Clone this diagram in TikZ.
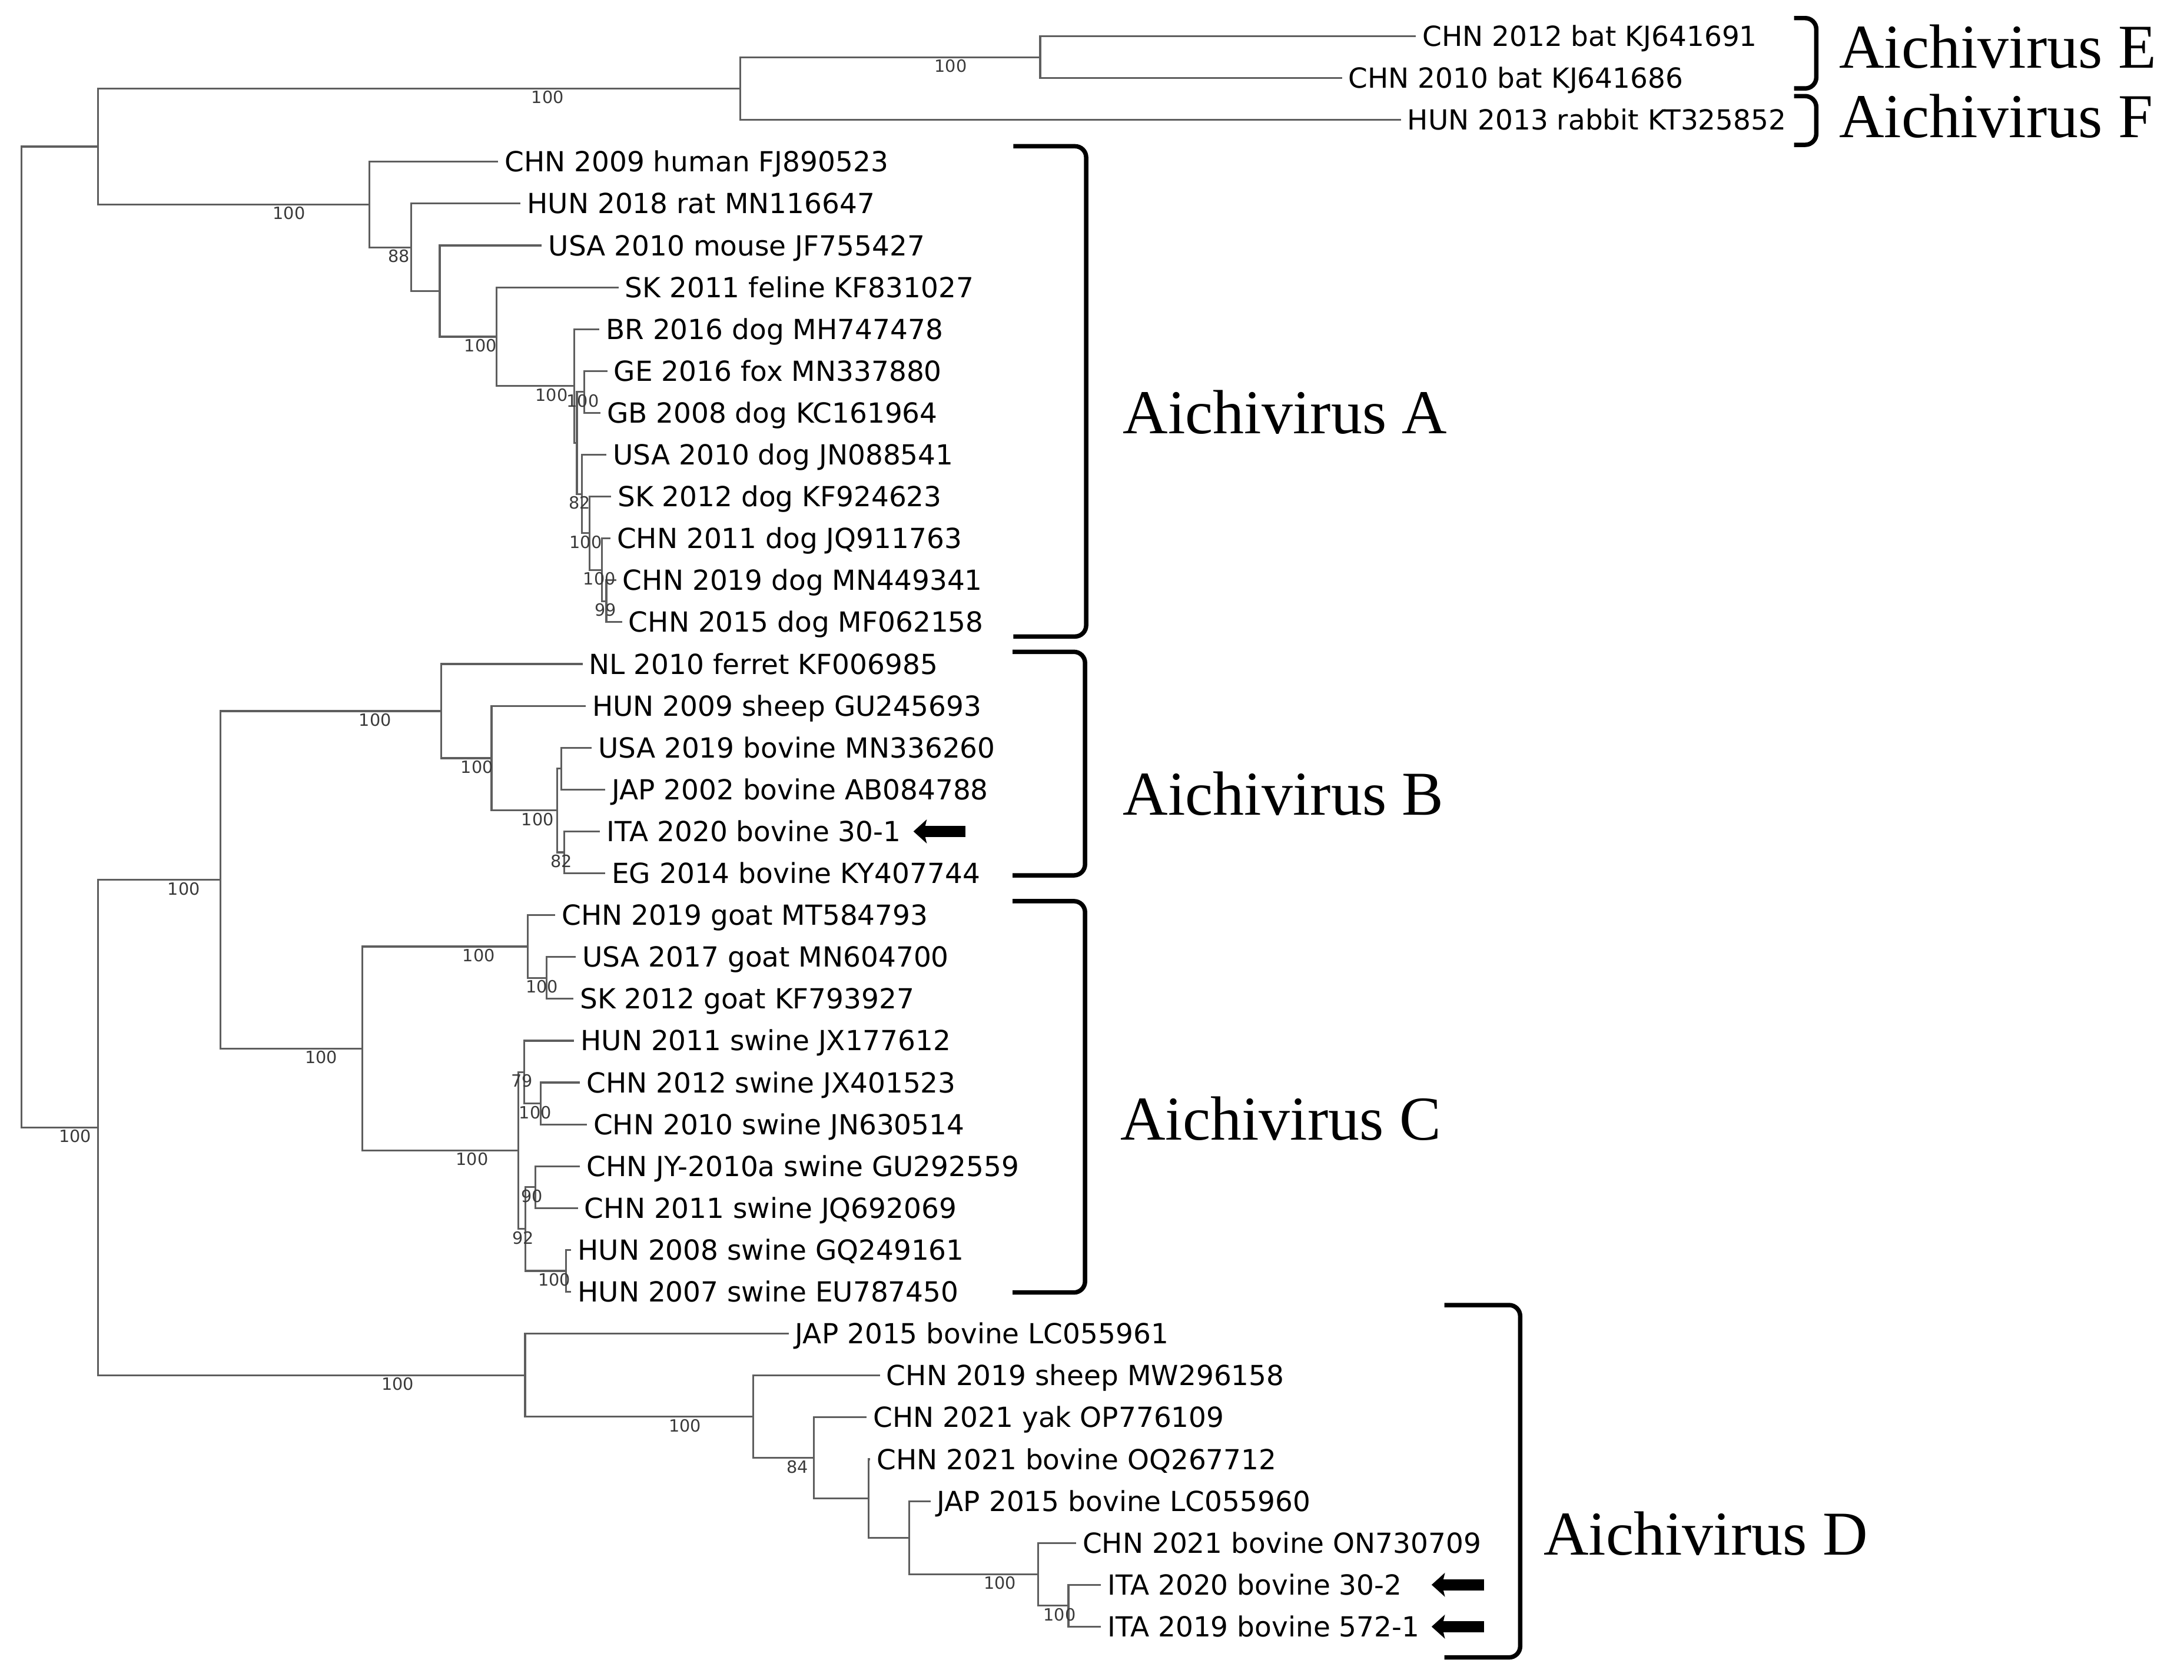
\documentclass[tikz,border=0pt]{standalone}
\usepackage{fontspec}
\setmainfont{DejaVu Sans}
\newfontfamily\cladefont{Liberation Serif}
\usetikzlibrary{arrows.meta}
\definecolor{tgray}{HTML}{5E5E5E}
\definecolor{sgray}{HTML}{3A3A3A}
\tikzstyle{branch} = [draw=tgray, line width=0.75pt]
\tikzstyle{leaf} = [anchor=west, inner xsep=2.5pt, inner ysep=0pt, text height=11.2pt, text depth=3pt, font=\fontsize{11.3}{13}\selectfont]
\tikzstyle{support} = [inner sep=0pt, text=sgray, font=\fontsize{6.9}{8}\selectfont]
\tikzstyle{clade} = [anchor=west, inner sep=0pt, font=\cladefont\fontsize{25.5}{28}\selectfont]
\tikzstyle{bracket} = [draw=black, line width=1.8pt, rounded corners=0.16cm]
\tikzstyle{pointer} = [line width=4.6pt, -{Stealth[length=0.19cm, width=0.34cm, inset=0.04cm]}]

\begin{document}
\begin{tikzpicture}[x=0.02cm, y=-0.02cm]
\useasboundingbox (0,0) rectangle (1568,1206);
%Leaves
\node (bat12) [leaf] at (1016.5,26) {CHN 2012 bat KJ641691};
\node (bat10) [leaf] at (963.4,56.05) {CHN 2010 bat KJ641686};
\node (rab13) [leaf] at (1005.7,86.1) {HUN 2013 rabbit KT325852};
\node (hum09) [leaf] at (357.6,116.15) {CHN 2009 human FJ890523};
\node (rat18) [leaf] at (373.7,146.2) {HUN 2018 rat MN116647};
\node (mou10) [leaf] at (389,176.25) {USA 2010 mouse JF755427};
\node (fel11) [leaf] at (444,206.3) {SK 2011 feline KF831027};
\node (dogBR) [leaf] at (430.3,236.35) {BR 2016 dog MH747478};
\node (foxGE) [leaf] at (436,266.4) {GE 2016 fox MN337880};
\node (dogGB) [leaf] at (431,296.45) {GB 2008 dog KC161964};
\node (dogUS) [leaf] at (435.4,326.5) {USA 2010 dog JN088541};
\node (dogSK) [leaf] at (438.7,356.55) {SK 2012 dog KF924623};
\node (dogCN11) [leaf] at (438.2,386.6) {CHN 2011 dog JQ911763};
\node (dogCN19) [leaf] at (442.4,416.65) {CHN 2019 dog MN449341};
\node (dogCN15) [leaf] at (446.6,446.7) {CHN 2015 dog MF062158};
\node (fer10) [leaf] at (418.2,476.75) {NL 2010 ferret KF006985};
\node (shp09) [leaf] at (420.5,506.8) {HUN 2009 sheep GU245693};
\node (bovUS) [leaf] at (424.7,536.85) {USA 2019 bovine MN336260};
\node (bovJP02) [leaf] at (434.5,566.9) {JAP 2002 bovine AB084788};
\node (bovIT1) [leaf] at (430.8,596.95) {ITA 2020 bovine 30-1};
\node (bovEG) [leaf] at (434.5,627) {EG 2014 bovine KY407744};
\node (goatCN) [leaf] at (398.7,657.05) {CHN 2019 goat MT584793};
\node (goatUS) [leaf] at (413.5,687.1) {USA 2017 goat MN604700};
\node (goatSK) [leaf] at (411.7,717.15) {SK 2012 goat KF793927};
\node (swHU11) [leaf] at (412.1,747.2) {HUN 2011 swine JX177612};
\node (swCN12) [leaf] at (416.3,777.25) {CHN 2012 swine JX401523};
\node (swCN10) [leaf] at (421.3,807.3) {CHN 2010 swine JN630514};
\node (swJY) [leaf] at (416.3,837.35) {CHN JY-2010a swine GU292559};
\node (swCN11) [leaf] at (414.9,867.4) {CHN 2011 swine JQ692069};
\node (swHU08) [leaf] at (410,897.45) {HUN 2008 swine GQ249161};
\node (swHU07) [leaf] at (410,927.5) {HUN 2007 swine EU787450};
\node (bovJP61) [leaf] at (566.2,957.55) {JAP 2015 bovine LC055961};
\node (shpCN) [leaf] at (631.7,987.6) {CHN 2019 sheep MW296158};
\node (yak) [leaf] at (622.3,1017.65) {CHN 2021 yak OP776109};
\node (bovOQ) [leaf] at (624.8,1047.7) {CHN 2021 bovine OQ267712};
\node (bovJP60) [leaf] at (668,1077.75) {JAP 2015 bovine LC055960};
\node (bovON) [leaf] at (772.5,1107.8) {CHN 2021 bovine ON730709};
\node (bovIT2) [leaf] at (790.4,1137.85) {ITA 2020 bovine 30-2};
\node (bovIT3) [leaf] at (790.4,1167.9) {ITA 2019 bovine 572-1};
%Inner nodes
\coordinate (root) at (15.4,457.38);
\coordinate (nAEF) at (70.2,105.22);
\coordinate (nEF) at (531.5,63.56);
\coordinate (nE) at (746.8,41.03);
\coordinate (nA1) at (265.2,146.87);
\coordinate (nA2) at (295.2,177.6);
\coordinate (nA3) at (315.7,209.0);
\coordinate (nA4) at (356.6,241.75);
\coordinate (nA5) at (412.4,277.2);
\coordinate (nA6) at (414.2,318.05);
\coordinate (nA7) at (419.5,281.43);
\coordinate (nA8) at (417.7,354.67);
\coordinate (nA9) at (423.4,382.84);
\coordinate (nA10) at (432.2,409.14);
\coordinate (nA11) at (435.3,431.68);
\coordinate (nBCD) at (70.3,809.53);
\coordinate (nBC) at (158.3,631.69);
\coordinate (nB1) at (316.7,510.56);
\coordinate (nB2) at (352.9,544.36);
\coordinate (nB3) at (400,581.93);
\coordinate (nB4) at (402.9,551.88);
\coordinate (nB5) at (405,611.98);
\coordinate (nC) at (260.2,752.84);
\coordinate (nC1) at (379,679.59);
\coordinate (nC2) at (392.4,702.13);
\coordinate (nC3) at (372.2,826.08);
\coordinate (nC4) at (376.2,769.74);
\coordinate (nC5) at (388.1,792.28);
\coordinate (nC6) at (377.3,882.43);
\coordinate (nC7) at (384.3,852.38);
\coordinate (nC8) at (406.4,912.48);
\coordinate (nD1) at (377,987.37);
\coordinate (nD2) at (540.8,1017.18);
\coordinate (nD3) at (584.4,1046.76);
\coordinate (nD4) at (623.7,1075.87);
\coordinate (nD5) at (652.8,1104.04);
\coordinate (nD6) at (745.3,1130.34);
\coordinate (nD7) at (767.1,1152.88);
%Branches
\draw [branch] (root) |- (nAEF) (root) |- (nBCD);
\draw [branch] (nAEF) |- (nEF) (nAEF) |- (nA1);
\draw [branch] (nEF) |- (nE) (nEF) |- (rab13.west);
\draw [branch] (nE) |- (bat12.west) (nE) |- (bat10.west);
\draw [branch] (nA1) |- (hum09.west) (nA1) |- (nA2);
\draw [branch] (nA2) |- (rat18.west) (nA2) |- (nA3);
\draw [branch] (nA3) |- (mou10.west) (nA3) |- (nA4);
\draw [branch] (nA4) |- (fel11.west) (nA4) |- (nA5);
\draw [branch] (nA5) |- (dogBR.west) (nA5) |- (nA6);
\draw [branch] (nA6) |- (nA7) (nA6) |- (nA8);
\draw [branch] (nA7) |- (foxGE.west) (nA7) |- (dogGB.west);
\draw [branch] (nA8) |- (dogUS.west) (nA8) |- (nA9);
\draw [branch] (nA9) |- (dogSK.west) (nA9) |- (nA10);
\draw [branch] (nA10) |- (dogCN11.west) (nA10) |- (nA11);
\draw [branch] (nA11) |- (dogCN19.west) (nA11) |- (dogCN15.west);
\draw [branch] (nBCD) |- (nBC) (nBCD) |- (nD1);
\draw [branch] (nBC) |- (nB1) (nBC) |- (nC);
\draw [branch] (nB1) |- (fer10.west) (nB1) |- (nB2);
\draw [branch] (nB2) |- (shp09.west) (nB2) |- (nB3);
\draw [branch] (nB3) |- (nB4) (nB3) |- (nB5);
\draw [branch] (nB4) |- (bovUS.west) (nB4) |- (bovJP02.west);
\draw [branch] (nB5) |- (bovIT1.west) (nB5) |- (bovEG.west);
\draw [branch] (nC) |- (nC1) (nC) |- (nC3);
\draw [branch] (nC1) |- (goatCN.west) (nC1) |- (nC2);
\draw [branch] (nC2) |- (goatUS.west) (nC2) |- (goatSK.west);
\draw [branch] (nC3) |- (nC4) (nC3) |- (nC6);
\draw [branch] (nC4) |- (swHU11.west) (nC4) |- (nC5);
\draw [branch] (nC5) |- (swCN12.west) (nC5) |- (swCN10.west);
\draw [branch] (nC6) |- (nC7) (nC6) |- (nC8);
\draw [branch] (nC7) |- (swJY.west) (nC7) |- (swCN11.west);
\draw [branch] (nC8) |- (swHU08.west) (nC8) |- (swHU07.west);
\draw [branch] (nD1) |- (bovJP61.west) (nD1) |- (nD2);
\draw [branch] (nD2) |- (shpCN.west) (nD2) |- (nD3);
\draw [branch] (nD3) |- (yak.west) (nD3) |- (nD4);
\draw [branch] (nD4) |- (bovOQ.west) (nD4) |- (nD5);
\draw [branch] (nD5) |- (bovJP60.west) (nD5) |- (nD6);
\draw [branch] (nD6) |- (bovON.west) (nD6) |- (nD7);
\draw [branch] (nD7) |- (bovIT2.west) (nD7) |- (bovIT3.west);
%Bootstrap values
\node (s1) [support] at (393.2,69.9) {100};
\node (s2) [support] at (682.6,47.3) {100};
\node (s3) [support] at (207.5,153.2) {100};
\node (s4) [support] at (54,815.8) {100};
\node (s5) [support] at (286.5,183.9) {88};
\node (s6) [support] at (345,248.1) {100};
\node (s7) [support] at (396,283.5) {100};
\node (s8) [support] at (418.4,287.7) {100};
\node (s9) [support] at (416,361) {82};
\node (s10) [support] at (420.5,389.1) {100};
\node (s11) [support] at (430.4,415.4) {100};
\node (s12) [support] at (434.6,438) {99};
\node (s13) [support] at (132,638) {100};
\node (s14) [support] at (269.3,516.9) {100};
\node (s15) [support] at (342.4,550.7) {100};
\node (s16) [support] at (386,588.2) {100};
\node (s17) [support] at (403,618.3) {82};
\node (s18) [support] at (230.5,759.1) {100};
\node (s19) [support] at (343.7,685.9) {100};
\node (s20) [support] at (389.2,708.4) {100};
\node (s21) [support] at (339,832.4) {100};
\node (s22) [support] at (374.8,776) {79};
\node (s23) [support] at (384.3,798.6) {100};
\node (s24) [support] at (381.8,858.7) {90};
\node (s25) [support] at (375.5,888.7) {92};
\node (s26) [support] at (398,918.8) {100};
\node (s27) [support] at (285.5,993.7) {100};
\node (s28) [support] at (491.7,1023.5) {100};
\node (s29) [support] at (572.4,1053.1) {84};
\node (s30) [support] at (718,1136.6) {100};
\node (s31) [support] at (760.8,1159.2) {100};
%Clades
\draw [bracket] (1288,13) -- (1304,13) -- (1304,63.5) -- (1288,63.5);
\draw [bracket] (1288,69) -- (1304,69) -- (1304,104) -- (1288,104);
\draw [bracket] (727.5,105) -- (779.8,105) -- (779.8,457) -- (727.5,457);
\draw [bracket] (727,468) -- (779,468) -- (779,628.5) -- (727,628.5);
\draw [bracket] (727,647) -- (779,647) -- (779,928) -- (727,928);
\draw [bracket] (1037,937) -- (1091.4,937) -- (1091.4,1190) -- (1037,1190);
\node (labE) [clade] at (1320,33.5) {Aichivirus E};
\node (labF) [clade] at (1320,83.5) {Aichivirus F};
\node (labA) [clade] at (806,296) {Aichivirus A};
\node (labB) [clade] at (806,570) {Aichivirus B};
\node (labC) [clade] at (804,803) {Aichivirus C};
\node (labD) [clade] at (1107.8,1101) {Aichivirus D};
%Italian strains
\coordinate (tail1) at (693.2,596.95);
\coordinate (tip1) at (655.8,596.95);
\coordinate (tail2) at (1065.5,1137.85);
\coordinate (tip2) at (1027.8,1137.85);
\coordinate (tail3) at (1065.5,1167.9);
\coordinate (tip3) at (1027.8,1167.9);
\draw [pointer] (tail1) -- (tip1);
\draw [pointer] (tail2) -- (tip2);
\draw [pointer] (tail3) -- (tip3);
\end{tikzpicture}
\end{document}
